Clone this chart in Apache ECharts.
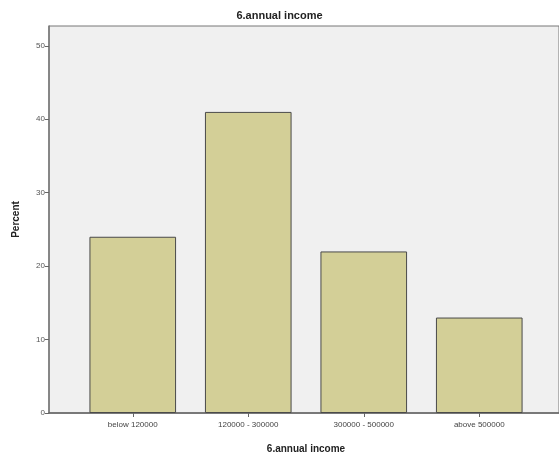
<!DOCTYPE html>
<html><head><meta charset="utf-8">
<script src="https://cdn.jsdelivr.net/npm/echarts@6/dist/echarts.min.js"></script>
<style>html,body{margin:0;padding:0;background:#fff}#c{width:559px;height:456px}</style>
</head><body><div id="c"></div>
<script>
var categories = ["below 120000", "120000 - 300000", "300000 - 500000", "above 500000"];
var percentValues = [24, 41, 22, 13];
var yTicks = [0, 10, 20, 30, 40, 50];
var titleText = "6.annual income";
var xName = "6.annual income";
var yName = "Percent";

var chart = echarts.init(document.getElementById('c'));
var font = "'Liberation Sans', Arial, sans-serif";
var yMax = 52.7;
chart.setOption({
  animation: false,
  title: { text: titleText, left: 'center', top: 5,
    textStyle: { fontFamily: font, fontSize: 11, fontWeight: 'bold', color: '#222' } },
  grid: [
    { left: 49, right: 0, top: 26, bottom: 43, show: true, backgroundColor: '#f0f0f0', borderColor: '#777', borderWidth: 1, containLabel: false, outerBoundsMode: 'none' },
    { left: 75, right: 22, top: 26, bottom: 43, containLabel: false, outerBoundsMode: 'none' }
  ],
  xAxis: [
    { gridIndex: 0, type: 'value', min: 0, max: 1, axisLine: { show: true, lineStyle: { color: '#666', width: 1.5 } },
      axisTick: { show: false }, axisLabel: { show: false }, splitLine: { show: false } },
    { gridIndex: 1, type: 'category', data: categories, axisLine: { show: false },
      axisTick: { show: true, alignWithLabel: true, length: 4, lineStyle: { color: '#666' } },
      axisLabel: { fontFamily: font, fontSize: 8, color: '#444', margin: 8 },
      name: xName, nameLocation: 'middle', nameGap: 31,
      nameTextStyle: { fontFamily: font, fontSize: 10, fontWeight: 'bold', color: '#222' } }
  ],
  yAxis: [
    { gridIndex: 0, type: 'value', min: 0, max: yMax,
      axisLine: { show: true, lineStyle: { color: '#777', width: 1.5 } },
      axisTick: { show: true, length: 4, customValues: yTicks, lineStyle: { color: '#666' } },
      axisLabel: { customValues: yTicks, fontFamily: font, fontSize: 8, color: '#555', margin: 4 },
      splitLine: { show: false },
      name: yName, nameLocation: 'middle', nameGap: 28, nameRotate: 90,
      nameTextStyle: { fontFamily: font, fontSize: 10, fontWeight: 'bold', color: '#222' } },
    { gridIndex: 1, type: 'value', min: 0, max: yMax, show: false }
  ],
  series: [{
    type: 'bar', xAxisIndex: 1, yAxisIndex: 1, data: percentValues, barWidth: '75%',
    itemStyle: { color: '#d3cf97', borderColor: '#4a4a4a', borderWidth: 1 }
  }]
});
</script></body></html>
